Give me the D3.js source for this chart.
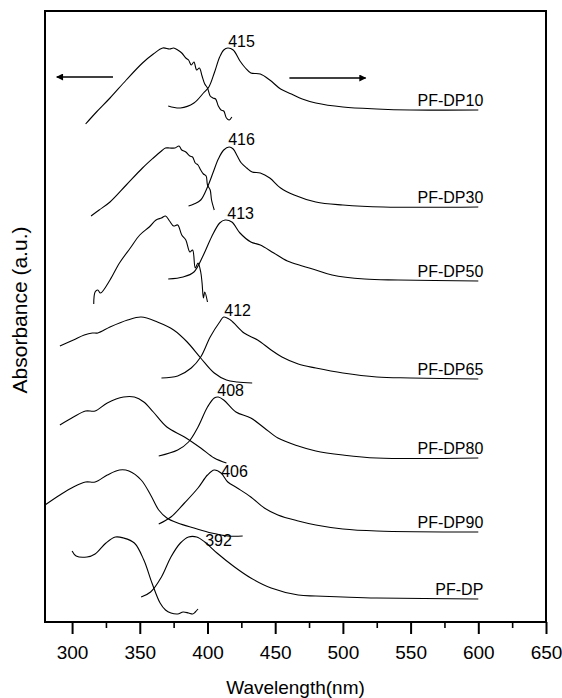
<!DOCTYPE html>
<html>
<head>
<meta charset="utf-8">
<script src="https://cdn.jsdelivr.net/npm/d3@7"></script>
<style>
body { margin: 0; background: #fff; }
text { font-family: "Liberation Sans", Arial, sans-serif; fill: #000; }
.curve { fill: none; stroke: #000; stroke-width: 1.1; }
</style>
</head>
<body>
<div id="chart"></div>
<script>
// x axis ticks (nm)
var xTicks = [300, 350, 400, 450, 500, 550, 600, 650];
var xMinor = [325, 375, 425, 475, 525, 575, 625];

var names = ["PF-DP10", "PF-DP30", "PF-DP50", "PF-DP65", "PF-DP80", "PF-DP90", "PF-DP"];

// absorption spectra [wavelength, a.u.] (already offset)
var absDP10 = [[310,49.8],[318,51.0],[328,52.4],[340,54.2],[352,55.9],[360,56.8],[367,57.4],[372,57.3],[375,57.4],[378,57.2],[381,56.9],[384,56.4],[386,56.2],[388,55.7],[390,56.0],[392,55.2],[394,55.4],[396,54.6],[398,53.8],[400,53.4],[402,52.6],[404,52.4],[406,52.3],[408,51.6],[410,51.2],[412,51.1],[414,50.4],[416,50.2],[418,50.5]];
var absDP30 = [[314,40.6],[320,41.2],[328,42.0],[340,43.7],[352,45.4],[360,46.4],[366,47.1],[369,47.4],[372,47.4],[376,47.4],[379,47.6],[381,47.2],[384,47.0],[387,46.6],[389,46.5],[391,45.9],[393,45.7],[395,45.2],[397,44.8],[399,44.6],[400,43.7],[402,43.2],[403,42.2],[405,41.2]];
var absDP50 = [[316,31.8],[317,33.0],[319,33.2],[321,32.9],[328,34.2],[335,35.9],[343,37.4],[350,38.7],[357,39.5],[362,40.2],[366,40.4],[369,40.6],[372,40.1],[375,39.6],[378,39.7],[381,38.7],[384,38.2],[387,37.0],[389,37.2],[391,35.4],[393,35.9],[395,35.0],[396,33.9],[397,32.4],[398,33.0],[400,32.0]];
var absDP65 = [[291,27.6],[301,28.2],[309,28.7],[315,28.9],[319,28.9],[328,29.5],[341,30.2],[351,30.5],[363,30.0],[375,29.2],[385,28.0],[395,26.4],[405,24.9],[414,24.2],[422,24.0],[433,23.9]];
var absDP80 = [[291,19.7],[301,20.5],[310,21.1],[317,21.1],[326,21.9],[338,22.5],[346,22.5],[353,22.0],[360,21.0],[370,19.5],[383,18.5],[395,17.4],[405,16.4],[414,15.9]];
var absDP90 = [[280,11.7],[291,12.7],[301,13.5],[310,14.0],[317,14.0],[326,14.7],[335,15.2],[342,15.1],[351,14.2],[358,12.7],[364,11.2],[370,10.4],[378,9.9],[390,9.4],[403,8.9],[415,8.6],[426,8.6]];
var absDP = [[300,7.1],[303,6.6],[311,6.5],[317,6.8],[325,7.9],[332,8.5],[338,8.4],[346,7.9],[353,6.2],[359,3.9],[365,1.9],[369,1.2],[373,0.9],[378,0.8],[382,1.0],[386,0.9],[389,0.8],[391,1.0],[393,1.3]];

// emission spectra
var plDP10 = [[371,51.6],[380,51.4],[390,51.9],[397,52.9],[401,53.5],[405,54.9],[409,56.5],[412,57.2],[415,57.4],[419,57.2],[424,56.1],[428,55.4],[432,54.9],[439,54.8],[446,54.2],[454,53.3],[462,52.8],[470,52.3],[480,51.9],[500,51.5],[525,51.3],[550,51.2],[600,51.2]];
var plDP30 = [[386,41.6],[390,41.8],[395,42.2],[400,43.5],[404,44.9],[408,46.3],[412,47.2],[416,47.5],[419,47.3],[422,46.6],[425,45.9],[429,45.4],[433,45.0],[439,44.9],[446,44.4],[454,43.4],[464,42.7],[480,42.0],[500,41.7],[530,41.5],[600,41.5]];
var plDP50 = [[371,34.3],[382,34.5],[390,35.0],[397,36.7],[403,38.5],[409,39.9],[413,40.2],[418,40.0],[424,38.9],[432,38.0],[439,37.7],[449,36.9],[459,36.1],[470,35.6],[480,35.2],[492,34.7],[516,34.3],[541,34.2],[600,34.1]];
var plDP65 = [[366,24.4],[378,24.6],[388,25.4],[395,26.5],[402,28.5],[409,30.0],[412,30.5],[417,30.2],[427,28.9],[437,28.2],[447,27.2],[455,26.5],[467,25.8],[480,25.4],[500,24.9],[525,24.5],[550,24.4],[600,24.3]];
var plDP80 = [[364,16.6],[378,17.2],[386,18.0],[393,19.5],[400,21.5],[405,22.4],[408,22.5],[412,22.2],[421,21.0],[432,20.4],[442,19.4],[452,18.4],[467,17.6],[480,17.1],[500,16.7],[525,16.4],[600,16.4]];
var plDP90 = [[364,9.8],[373,10.5],[383,11.9],[393,13.4],[400,14.7],[405,15.2],[410,14.9],[415,14.0],[422,13.4],[432,12.5],[442,11.4],[452,10.7],[467,10.1],[480,9.7],[500,9.3],[525,9.1],[600,9.0]];
var plDP = [[351,2.5],[358,3.0],[366,4.5],[373,6.5],[380,7.9],[386,8.5],[392,8.5],[398,8.0],[407,6.9],[420,5.5],[432,4.4],[447,3.4],[467,2.7],[480,2.6],[500,2.5],[525,2.4],[600,2.3]];

var absList = [absDP10, absDP30, absDP50, absDP65, absDP80, absDP90, absDP];
var plList = [plDP10, plDP30, plDP50, plDP65, plDP80, plDP90, plDP];

// peak labels and where they sit
var peakText = ["415", "416", "413", "412", "408", "406", "392"];
var peakAt = [[415.3,57.5],[415.3,47.7],[414.6,40.3],[412.4,30.6],[407.2,22.6],[410.1,14.5],[398.3,7.6]];

// arrows: absorption <- , -> emission
var arrowLeft = [[330.2,54.5],[288.7,54.5]];
var arrowRight = [[460.5,54.4],[516.8,54.4]];

var W = 562, H = 698;
var margin = {top: 11, right: 16, bottom: 76, left: 45};
var width = W - margin.left - margin.right;
var height = H - margin.top - margin.bottom;

var svg = d3.select("#chart")
.append("svg")
.attr("width", W)
.attr("height", H)
.append("g")
.attr("transform", "translate(" + margin.left + "," + margin.top + ")");

var x = d3.scaleLinear().domain([280, 650]).range([0, width]);
var y = d3.scaleLinear().domain([0, 61.1]).range([height, 0]);

svg.append("defs").append("marker")
.attr("id", "head")
.attr("viewBox", "0 0 10 10")
.attr("refX", 9).attr("refY", 5)
.attr("markerWidth", 10).attr("markerHeight", 7)
.attr("markerUnits", "userSpaceOnUse")
.attr("orient", "auto")
.append("path")
.attr("d", "M0,0L10,5L0,10z")
.attr("fill", "#000");

//axes
svg.append("g")
.attr("transform", "translate(0," + height + ")")
.call(d3.axisBottom(x).tickValues(xMinor).tickSize(6).tickFormat(""))
.call(function(g){ g.select(".domain").remove(); })
.selectAll("line").attr("stroke-width", 1.6);

var xAxis = svg.append("g")
.attr("transform", "translate(0," + height + ")")
.call(d3.axisBottom(x).tickValues(xTicks).tickSize(12).tickPadding(12));
xAxis.select(".domain").remove();
xAxis.selectAll("line").attr("stroke-width", 2);
xAxis.selectAll("text")
.style("font-family", "'Liberation Sans', Arial, sans-serif")
.style("font-size", "19px")
.attr("fill", "#000");

svg.append("rect")
.attr("x", 0).attr("y", 0)
.attr("width", width).attr("height", height)
.attr("fill", "none")
.attr("stroke", "#000")
.attr("stroke-width", 2);

var line = d3.line()
.x(function(d){ return x(d[0]); })
.y(function(d){ return y(d[1]); })
.curve(d3.curveCatmullRom.alpha(0.5));

//curves
svg.append("g").selectAll("path")
.data(absList)
.enter()
.append("path")
.attr("class", "curve")
.attr("d", line);

svg.append("g").selectAll("path")
.data(plList)
.enter()
.append("path")
.attr("class", "curve")
.attr("d", line);

// peak wavelengths
svg.append("g").selectAll("text")
.data(peakText)
.enter()
.append("text")
.attr("x", function(d, i){ return x(peakAt[i][0]); })
.attr("y", function(d, i){ return y(peakAt[i][1]); })
.style("font-size", "16px")
.text(function(d){ return d; });

// sample names at end of emission tails
svg.append("g").selectAll("text")
.data(names)
.enter()
.append("text")
.attr("x", function(d, i){ return x(plList[i][plList[i].length - 1][0]) + 5; })
.attr("y", function(d, i){ return y(plList[i][plList[i].length - 1][1]) - 4; })
.attr("text-anchor", "end")
.style("font-size", "16px")
.text(function(d){ return d; });

var straight = d3.line()
.x(function(d){ return x(d[0]); })
.y(function(d){ return y(d[1]); });

svg.selectAll(".arrow")
.data([arrowLeft, arrowRight])
.enter()
.append("path")
.attr("class", "arrow")
.attr("d", straight)
.attr("stroke", "#000")
.attr("stroke-width", 1.4)
.attr("fill", "none")
.attr("marker-end", "url(#head)");

//labels
var labels = d3.select("svg")
.append("g");

labels.append("text")
.text("Wavelength(nm)")
.attr("text-anchor", "middle")
.attr("x", margin.left + width / 2)
.attr("y", 694)
.style("font-size", "19px");

labels.append("g")
.attr("transform", "translate(27," + 310 + ")")
.append("text")
.text("Absorbance (a.u.)")
.attr("text-anchor", "middle")
.attr("transform", "rotate(-90)")
.style("font-size", "21px");
</script>
</body>
</html>
